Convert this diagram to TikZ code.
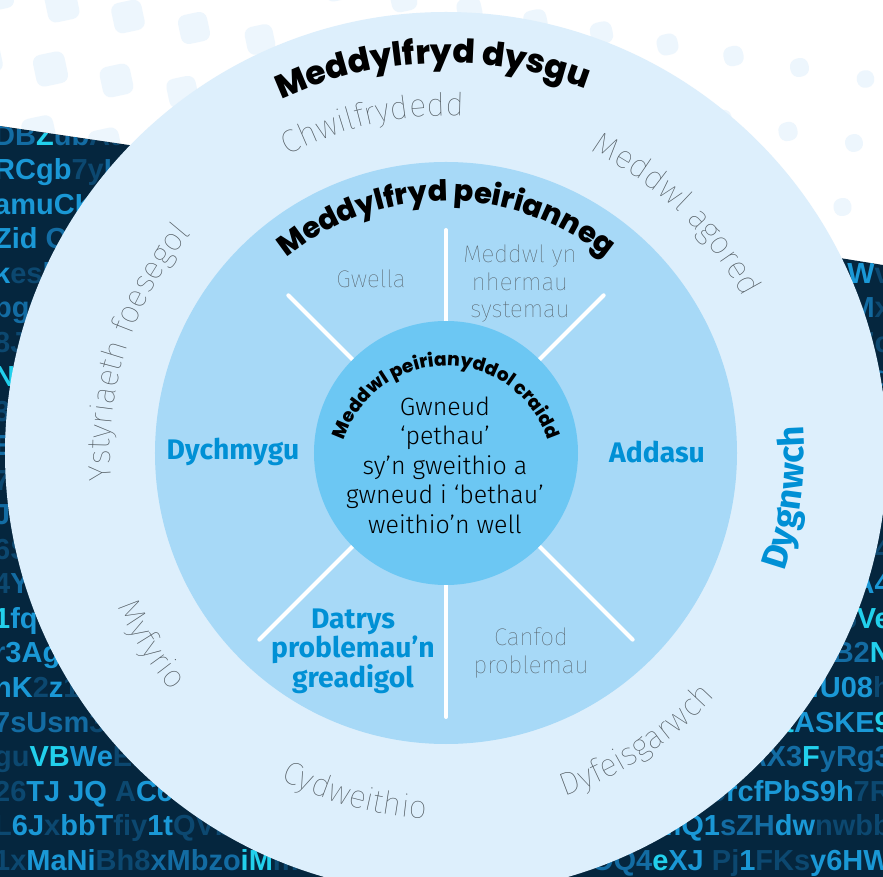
\documentclass[tikz,border=0pt]{standalone}
\usepackage{fontspec}
\setmainfont{Fira Sans}
\newfontfamily\lightfont{Fira Sans Thin}
\newfontfamily\bookfont{Fira Sans Light}
\newfontfamily\headfont{Poppins ExtraBold}
\newfontfamily\codefont{Liberation Sans}
\usetikzlibrary{decorations.text}
\definecolor{RingOuter}{HTML}{DDEFFC}
\definecolor{RingMid}{HTML}{A7D9F7}
\definecolor{RingCore}{HTML}{6CC7F3}
\definecolor{LabelBlue}{HTML}{0090D5}
\definecolor{LabelGrey}{HTML}{4F585E}
\definecolor{Navy}{HTML}{05263E}
\definecolor{DotBlue}{HTML}{EDF6FD}
\definecolor{CodeA}{HTML}{22D0EC}
\definecolor{CodeB}{HTML}{1A98D6}
\definecolor{CodeC}{HTML}{136CA3}
\definecolor{CodeD}{HTML}{0C4870}

\begin{document}
\begin{tikzpicture}[x=1pt,y=1pt]
		\tikzstyle{Grey}=[text=LabelGrey, font=\lightfont\fontsize{24}{27.5}\selectfont, align=center]
		\tikzstyle{Blue}=[text=LabelBlue, font=\bfseries\fontsize{28.3}{27.5}\selectfont, align=center]
		\tikzstyle{Core}=[text=black, font=\bookfont\fontsize{25}{29.5}\selectfont, align=center]
		\tikzstyle{Spoke}=[white, line width=4, line cap=round]
		\tikzstyle{CodeRow}=[font=\codefont\bfseries\fontsize{29}{29}\selectfont, inner sep=0]
		\tikzstyle{ArcText}=[decorate, decoration={text along path, text align=center}]

		\def\rOut {441}
		\def\rMid {291}
		\def\rCore {132}

		\useasboundingbox (-446,-424) rectangle (437,453);
		\fill[white] (-446,-424) rectangle (437,453);

		% dots along the top
		\foreach \i in {-1,...,13}
			\foreach \j in {-1,...,2}
			{
				\pgfmathsetmacro{\dotx}{-384 + 66*\i - 11.5*\j}
				\pgfmathsetmacro{\doty}{448 - 11.5*\i - 64*\j}
				\pgfmathsetmacro{\dotsz}{16.5 - 0.009*(\dotx + 446)}
				\fill[DotBlue, shift={(\dotx,\doty)}, rotate=12, rounded corners=8] (-\dotsz,-\dotsz) rectangle (\dotsz,\dotsz);
			}

		% code panels
		\begin{scope}
			\clip (-446,327) -- (-46,268) -- (-46,-424) -- (-446,-424) -- cycle;
			\fill[Navy] (-446,-424) rectangle (0,453);
			\foreach \codeline [count=\k from -1] in {
				{\color{CodeC}DB\color{CodeA}Z\color{CodeC}ub\color{CodeD}AteYx},
				{\color{CodeB}RCgb\color{CodeD}7y\color{CodeC}LmQ},
				{\color{CodeB}amuCK\color{CodeD}pTq},
				{\color{CodeB}Zid \color{CodeC}Ow3},
				{\color{CodeB}k\color{CodeD}es\color{CodeC}bM},
				{\color{CodeC}bg\color{CodeD}6Qr},
				{\color{CodeD}8J\color{CodeC}a},
				{\color{CodeA}N\color{CodeD}w},
				{\color{CodeD}3k},
				{\color{CodeC}Ex},
				{\color{CodeD}7y},
				{\color{CodeC}Jh},
				{\color{CodeD}6S},
				{\color{CodeD}4\color{CodeC}Yc},
				{\color{CodeA}1\color{CodeB}fq\color{CodeD}W},
				{\color{CodeC}r\color{CodeB}3Ag\color{CodeD}T},
				{\color{CodeB}nK\color{CodeD}2\color{CodeB}z\color{CodeD}1F},
				{\color{CodeC}7sUsm\color{CodeD}3X},
				{\color{CodeD}gu\color{CodeA}VB\color{CodeB}We\color{CodeD}Er},
				{\color{CodeD}26\color{CodeB}TJ JQ \color{CodeD}A\color{CodeB}C6a\color{CodeD}s},
				{\color{CodeD}L\color{CodeB}6J\color{CodeD}x\color{CodeB}bbT\color{CodeD}fiy\color{CodeB}1t\color{CodeD}QVb},
				{\color{CodeD}1x\color{CodeB}MaNi\color{CodeD}Bh8\color{CodeC}xMbzo\color{CodeA}iM\color{CodeD}mo}}
				\node[CodeRow, anchor=base west] (L\k) at (-452, {273 - 34.5*\k}) {\codeline};
		\end{scope}
		\begin{scope}
			\clip (54,250) -- (437,188) -- (437,-424) -- (54,-424) -- cycle;
			\fill[Navy] (0,-424) rectangle (437,453);
			\foreach \codeline [count=\k from 2] in {
				{\color{CodeD}xQ\color{CodeB}mWb},
				{\color{CodeC}Lq2\color{CodeB}mW\color{CodeD}v},
				{\color{CodeD}pR8\color{CodeC}M\color{CodeD}x},
				{\color{CodeD}tH4Zc},
				{\color{CodeD}9s\color{CodeC}Kd},
				{\color{CodeD}Wn2e},
				{\color{CodeD}bF7\color{CodeC}q},
				{\color{CodeD}Y3Lp},
				{\color{CodeD}u8\color{CodeC}Rm},
				{\color{CodeD}Qz4},
				{\color{CodeC}hT\color{CodeB}A4},
				{\color{CodeD}nT5\color{CodeA}Ve},
				{\color{CodeD}xL\color{CodeC}B2\color{CodeA}N},
				{\color{CodeD}k\color{CodeB}fU08\color{CodeD}h},
				{\color{CodeA}t\color{CodeB}ASKE\color{CodeA}9},
				{\color{CodeD}m\color{CodeC}AX3\color{CodeA}F\color{CodeC}yRg3},
				{\color{CodeD}Zo\color{CodeB}rcfPbS9h\color{CodeD}7R},
				{\color{CodeD}Tc\color{CodeB}mQ1\color{CodeC}sZH\color{CodeB}dw\color{CodeD}nwbb},
				{\color{CodeD}E2\color{CodeC}OQ4\color{CodeA}e\color{CodeB}XJ \color{CodeD}Pj\color{CodeB}1\color{CodeD}FKs\color{CodeB}y6HW}}
				\node[CodeRow, anchor=base east] (R\k) at (445, {273 - 34.5*\k}) {\codeline};
		\end{scope}

		% rings and spokes
		\fill[RingOuter] (0,0) circle (\rOut);
		\fill[RingMid] (0,0) circle (\rMid);
		\foreach \a/\r in {45/223, 90/223, 135/223, 225/264, 270/264, 315/264}
			\draw[Spoke] (\a:120) -- (\a:\r);
		\fill[RingCore] (0,0) circle (\rCore);

		% outer ring
		\path[ArcText, decoration={text color=black, text={|\headfont\fontsize{33}{33}\selectfont|Meddylfryd dysgu}}] (140:390) arc[start angle=140, end angle=44, radius=390];
		\path[ArcText, decoration={text color=LabelGrey, text={|\lightfont\fontsize{32}{32}\selectfont|Chwilfrydedd}}] (130:337) arc[start angle=130, end angle=75, radius=337];
		\path[ArcText, decoration={text color=LabelGrey, text={|\lightfont\fontsize{32}{32}\selectfont|Meddwl agored}}] (75:335) arc[start angle=75, end angle=17, radius=335];
		\path[ArcText, decoration={text color=LabelGrey, text={|\lightfont\fontsize{32}{32}\selectfont|Ystyriaeth foesegol}}] (195:336) arc[start angle=195, end angle=129, radius=336];
		\path[ArcText, decoration={text color=LabelGrey, text={|\lightfont\fontsize{32}{32}\selectfont|Myfyrio}}] (193:363) arc[start angle=193, end angle=233, radius=363];
		\path[ArcText, decoration={text color=LabelGrey, text={|\lightfont\fontsize{32}{32}\selectfont|Cydweithio}}] (230:366) arc[start angle=230, end angle=280, radius=366];
		\path[ArcText, decoration={text color=LabelGrey, text={|\lightfont\fontsize{32}{32}\selectfont|Dyfeisgarwch}}] (278:363) arc[start angle=278, end angle=329, radius=363];
		\path[ArcText, decoration={text color=LabelBlue, text={|\bfseries\fontsize{36}{36}\selectfont|Dygnwch}}] (-45:358) arc[start angle=-45, end angle=30, radius=358];

		% middle ring
		\path[ArcText, decoration={text color=black, text={|\headfont\fontsize{29}{29}\selectfont|Meddylfryd peirianneg}}] (150:252) arc[start angle=150, end angle=30, radius=252];
		\node[Grey] (Gwella) at (-75,174) {Gwella};
		\node[Grey] (Systemau) at (74,169) {Meddwl yn\\nhermau\\systemau};
		\node[Blue] (Dychmygu) at (-213,1) {Dychmygu};
		\node[Blue] (Addasu) at (211,1) {Addasu};
		\node[Blue] (Datrys) at (-93,-198) {Datrys\\problemau’n\\greadigol};
		\node[Grey] (Canfod) at (85,-200) {Canfod\\problemau};

		% core
		\path[ArcText, decoration={text color=black, text={|\headfont\fontsize{18.5}{18.5}\selectfont|Meddwl peirianyddol craidd}}] ([shift={(0,-20)}]170:107) arc[start angle=170, end angle=10, radius=107];
		\node[Core] (Gwneud) at (-1,-12) {Gwneud\\‘pethau’\\sy’n gweithio a\\gwneud i ‘bethau’\\weithio’n well};

\end{tikzpicture}
\end{document}
